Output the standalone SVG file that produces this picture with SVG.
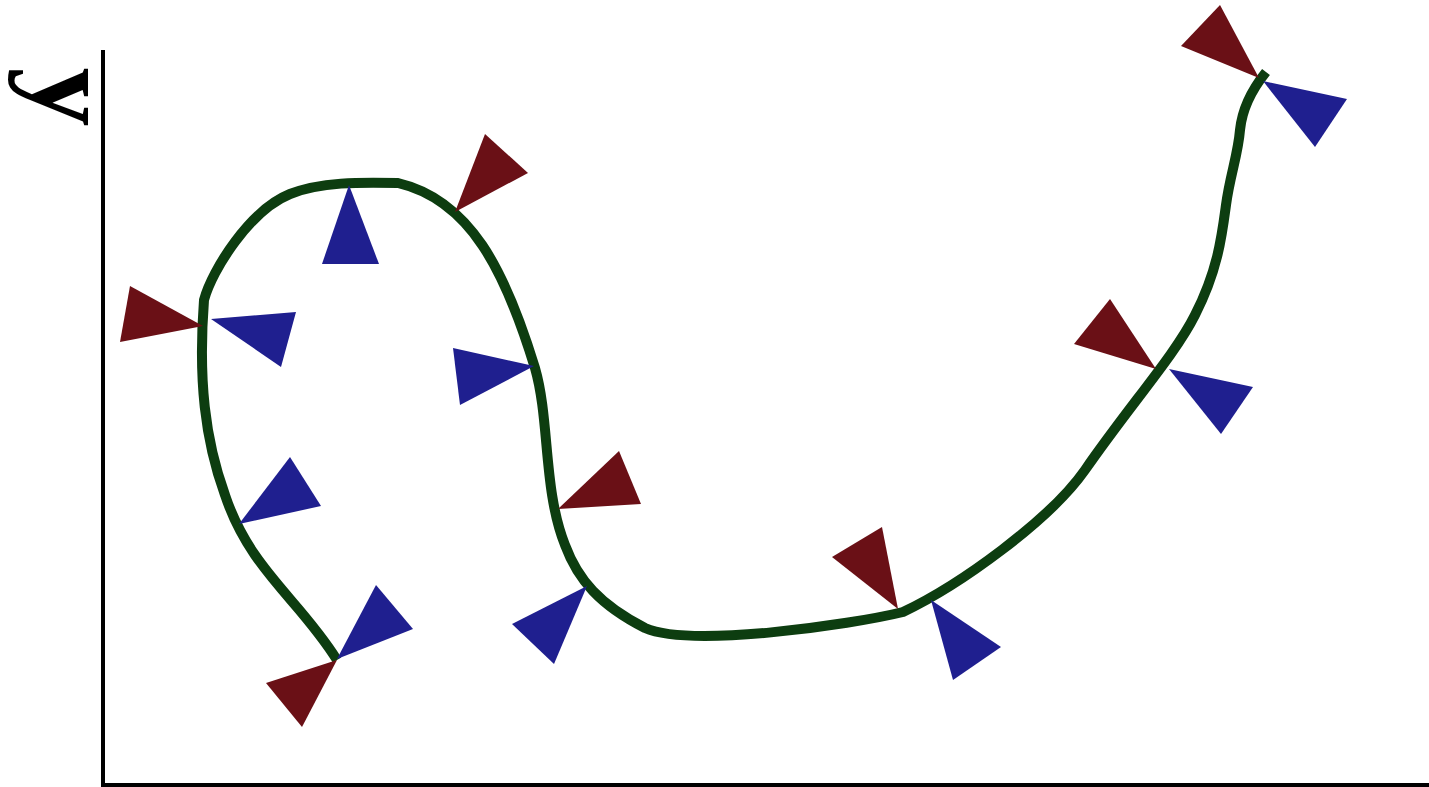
<svg xmlns="http://www.w3.org/2000/svg" width="1429" height="787" viewBox="0 0 1429 787">
<style>
.axis{stroke:#000;stroke-width:4;fill:none}
.curve{stroke:#0d3d10;stroke-width:10;fill:none;stroke-linecap:butt;stroke-linejoin:round}
.r{fill:#6a1016}
.b{fill:#1f1f8f}
.lbl{font-family:"Liberation Serif","Times New Roman",serif;font-weight:bold;font-size:118px;fill:#000}
</style>
<rect width="1429" height="787" fill="#fff"/>
<g id="axes">
<path class="axis" d="M103 50 V785 H1429"/>
<text class="lbl" transform="translate(33,97) rotate(90)" text-anchor="middle">y</text>
</g>
<g id="connectors">
<path class="curve" d="M337 660 C300 600 250 570 225 495 C205 440 198 380 204 300 C212 270 250 210 290 194 C320 182 360 182 398 183 C470 200 505 270 535 368 C550 420 543 490 565 545 C578 580 600 605 645 628 C690 648 850 625 903 612 C960 585 1050 520 1085 470 C1130 405 1175 355 1195 315 C1218 270 1222 235 1226 205 C1230 175 1238 155 1240 130 C1242 110 1250 92 1266 72"/>
</g>
<g id="n1"><polygon class="r" points="337,660 266,683 302,727"/><polygon class="b" points="337,659 376,585 413,629"/></g>
<g id="n2"><polygon class="b" points="239,524 290,457 321,506"/></g>
<g id="n3"><polygon class="r" points="203,326 130,286 120,342"/><polygon class="b" points="211,319 296,312 281,367"/></g>
<g id="n4"><polygon class="b" points="349,185 322,264 379,264"/></g>
<g id="n5"><polygon class="r" points="455,212 485,134 528,173"/></g>
<g id="n6"><polygon class="b" points="534,366 453,348 460,405"/></g>
<g id="n7"><polygon class="r" points="558,509 619,451 641,504"/></g>
<g id="n8"><polygon class="b" points="587,586 512,624 554,664"/></g>
<g id="n9"><polygon class="r" points="898,609 882,527 832,557"/><polygon class="b" points="931,600 1001,647 953,680"/></g>
<g id="n10"><polygon class="r" points="1156,369 1110,299 1074,344"/><polygon class="b" points="1169,369 1253,387 1221,434"/></g>
<g id="n11"><polygon class="r" points="1259,78 1220,5 1181,46"/><polygon class="b" points="1263,81 1347,99 1315,147"/></g>
</svg>
